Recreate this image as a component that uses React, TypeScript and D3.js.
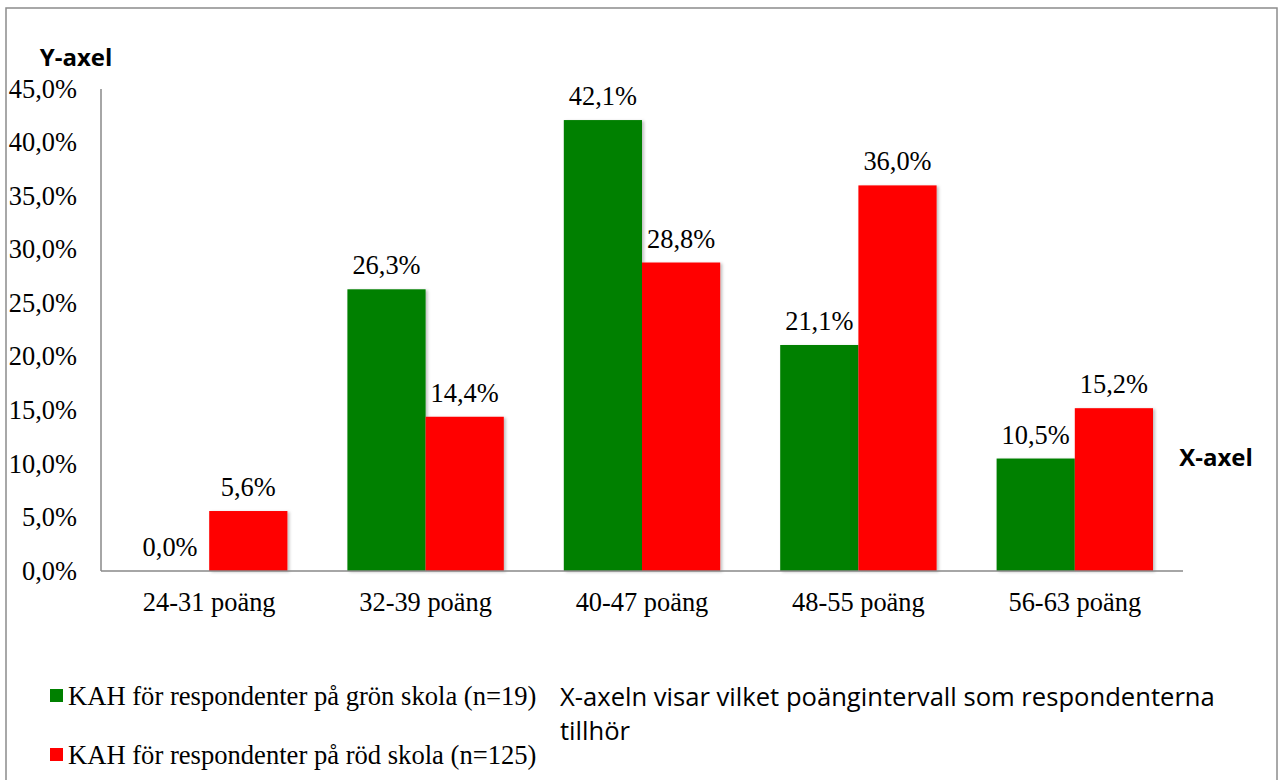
import React from "react";
import * as d3 from "d3";

const categories = ["24-31 poäng", "32-39 poäng", "40-47 poäng", "48-55 poäng", "56-63 poäng"];
const seriesNames = [
  "KAH för respondenter på grön skola (n=19)",
  "KAH för respondenter på röd skola (n=125)",
];
const greenValues = [0.0, 26.3, 42.1, 21.1, 10.5];
const redValues = [5.6, 14.4, 28.8, 36.0, 15.2];
const yTicks = [0, 5, 10, 15, 20, 25, 30, 35, 40, 45];
const colors = ["#008000", "#FF0000"];

const W = 1278;
const H = 780;
const plot = { left: 101, right: 1183, top: 89, bottom: 571 };

const fmt = (v: number) => v.toFixed(1).replace(".", ",") + "%";

export default function App() {
  const x0 = d3
    .scaleBand<string>()
    .domain(categories)
    .range([plot.left, plot.right])
    .paddingInner(0)
    .paddingOuter(0);
  const x1 = d3
    .scaleBand<number>()
    .domain([0, 1])
    .range([30, x0.bandwidth() - 30]);
  const y = d3.scaleLinear().domain([0, 45]).range([plot.bottom, plot.top]);
  const series = [greenValues, redValues];
  const serif = "'Liberation Serif', 'Times New Roman', serif";
  const sans = "'Open Sans', 'Liberation Sans', sans-serif";
  const fs = 26.4;

  return (
    <svg
      width={W}
      height={H}
      style={{ position: "absolute", left: 0, top: 0, background: "#fff" }}
    >
      <defs>
        <filter id="shadow" x="-10%" y="-10%" width="130%" height="130%">
          <feDropShadow dx="2" dy="1" stdDeviation="1.5" floodColor="#000" floodOpacity="0.25" />
        </filter>
      </defs>
      <rect x={6} y={8} width={1271} height={800} fill="#fff" stroke="#8c8c8c" strokeWidth={1.5} />

      {/* y tick labels */}
      {yTicks.map((t) => (
        <text
          key={t}
          x={77}
          y={y(t)}
          dy="0.33em"
          textAnchor="end"
          fontFamily={serif}
          fontSize={fs}
          fill="#000"
        >
          {fmt(t)}
        </text>
      ))}

      {/* bars */}
      {categories.map((c, i) =>
        series.map((vals, s) => {
          const bx = (x0(c) as number) + (x1(s) as number);
          const v = vals[i];
          return (
            <g key={c + s}>
              {v > 0 && (
                <rect
                  x={bx}
                  y={y(v)}
                  width={x1.bandwidth()}
                  height={y(0) - y(v)}
                  fill={colors[s]}
                  filter="url(#shadow)"
                />
              )}
              <text
                x={bx + x1.bandwidth() / 2}
                y={y(v) - 15}
                textAnchor="middle"
                fontFamily={serif}
                fontSize={fs}
                fill="#000"
              >
                {fmt(v)}
              </text>
            </g>
          );
        })
      )}

      {/* axes */}
      <line x1={plot.left} x2={plot.left} y1={plot.top} y2={plot.bottom} stroke="#888" strokeWidth={1.5} />
      <line x1={plot.left} x2={plot.right} y1={plot.bottom} y2={plot.bottom} stroke="#888" strokeWidth={1.5} />

      {/* category labels */}
      {categories.map((c) => (
        <text
          key={c}
          x={(x0(c) as number) + x0.bandwidth() / 2}
          y={611}
          textAnchor="middle"
          fontFamily={serif}
          fontSize={fs}
          fill="#000"
        >
          {c}
        </text>
      ))}

      {/* axis titles */}
      <text x={76} y={66} textAnchor="middle" fontFamily={sans} fontWeight="bold" fontSize={24} fill="#000">
        Y-axel
      </text>
      <text x={1216} y={466} textAnchor="middle" fontFamily={sans} fontWeight="bold" fontSize={24} fill="#000">
        X-axel
      </text>

      {/* legend */}
      {seriesNames.map((n, s) => (
        <g key={n} transform={`translate(50, ${689 + s * 59})`}>
          <rect x={0} y={0} width={13} height={13} fill={colors[s]} />
          <text x={18} y={16} fontFamily={serif} fontSize={26.6} fill="#000">
            {n}
          </text>
        </g>
      ))}

      <text x={560} y={706} fontFamily={sans} fontSize={25.6} fill="#000">
        X-axeln visar vilket poängintervall som respondenterna
      </text>
      <text x={560} y={740} fontFamily={sans} fontSize={25.6} fill="#000">
        tillhör
      </text>
    </svg>
  );
}
